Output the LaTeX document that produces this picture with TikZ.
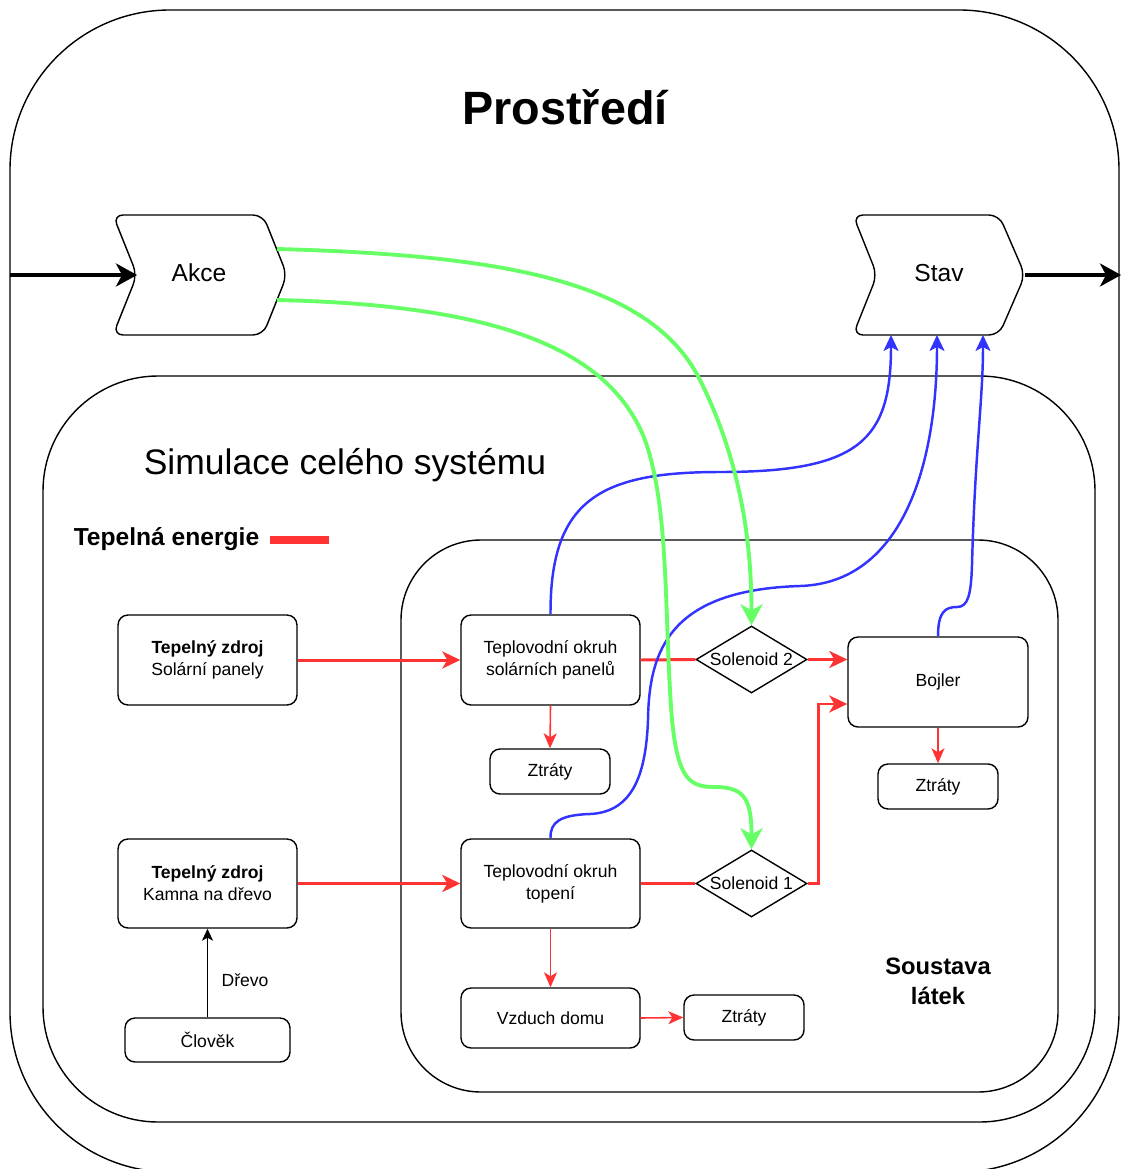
\documentclass[tikz,border=0pt]{standalone}
\usepackage{fontspec}
\setmainfont{Liberation Sans}
\usetikzlibrary{arrows.meta,shapes.geometric}
\definecolor{heat}{HTML}{FF3333}
\definecolor{ctrl}{HTML}{66FF66}
\definecolor{meas}{HTML}{3333FF}
\begin{document}
\begin{tikzpicture}[x=0.02cm,y=-0.02cm,
  frame/.style={draw, line width=0.8pt},
  box/.style={draw, fill=white, rounded corners=0.2cm, line width=0.8pt, align=center, inner sep=0pt, font=\fontsize{10}{12.5}\selectfont},
  dia/.style={draw, fill=white, diamond, line width=0.8pt, inner sep=0pt, minimum width=2.22cm, minimum height=1.34cm, label={[font=\fontsize{10}{12}\selectfont]center:#1}},
  stepshape/.style={draw, fill=white, line width=0.8pt, rounded corners=0.2cm},
  hot/.style={draw=heat, line width=1.7pt},
  hotarrow/.style={hot, -{Stealth[length=0.36cm,width=0.34cm,inset=0.1cm]}},
  thinhot/.style={draw=heat, line width=0.9pt, -{Stealth[length=0.3cm,width=0.26cm,inset=0.08cm]}},
  greenarrow/.style={draw=ctrl, line width=2.2pt, -{Stealth[length=0.42cm,width=0.44cm,inset=0.12cm]}},
  bluearrow/.style={draw=meas, line width=1.4pt, -{Stealth[length=0.32cm,width=0.3cm,inset=0.08cm]}},
  bigarrow/.style={draw=black, line width=2pt, -{Stealth[length=0.42cm,width=0.46cm,inset=0.12cm]}},
  thinarrow/.style={draw=black, line width=0.85pt, -{Stealth[length=0.24cm,width=0.22cm,inset=0.06cm]}}
]
\useasboundingbox (0,0) rectangle (1121,1169);
\clip (0,0) rectangle (1121,1169);
\fill[white] (0,0) rectangle (1121,1169);

% frames
\draw[frame, rounded corners=3.2cm] (10,10) rectangle (1119,1172);
\draw[frame, rounded corners=2.3cm] (43,376) rectangle (1095,1122);
\draw[frame, rounded corners=1.6cm] (401,540) rectangle (1058,1092);

% titles
\node[font=\fontsize{26.6}{30}\selectfont\bfseries] (title) at (565,107) {Prostředí};
\node[font=\fontsize{20.2}{24}\selectfont] (sim) at (345,465) {Simulace celého systému};
\node[font=\fontsize{14}{17}\selectfont\bfseries] (legend) at (166.5,539) {Tepelná energie};
\draw[draw=heat, line width=4pt] (270,540) -- (329,540);
\node[font=\fontsize{13.5}{17}\selectfont\bfseries, align=center] (soustava) at (938,981) {Soustava\\látek};

% Akce / Stav step shapes
\draw[stepshape] (113,215) -- (263,215) -- (287,275) -- (263,335) -- (113,335) -- (137,275) -- cycle;
\node[font=\fontsize{14}{17}\selectfont] (akce) at (199,273) {Akce};
\draw[stepshape] (853,215) -- (999,215) -- (1025,275) -- (999,335) -- (853,335) -- (877,275) -- cycle;
\node[font=\fontsize{14}{17}\selectfont] (stav) at (939,273) {Stav};
\coordinate (akceIn) at (137,275);
\coordinate (leftEdge) at (10,275);
\coordinate (stavOut) at (1025,275);
\coordinate (rightEdge) at (1121,275);
\coordinate (akceG1) at (277,249);
\coordinate (akceG2) at (277,300);
\coordinate (stavA) at (891,335);
\coordinate (stavB) at (937,335);
\coordinate (stavC) at (983,335);

% nodes
\node[box, minimum width=3.58cm, minimum height=1.8cm] (tz1) at (207.5,660) {\textbf{Tepelný zdroj}\\Solární panely};
\node[box, minimum width=3.58cm, minimum height=1.78cm] (tz2) at (207.5,883.5) {\textbf{Tepelný zdroj}\\Kamna na dřevo};
\node[box, minimum width=3.3cm, minimum height=0.88cm] (clovek) at (207.5,1040) {Člověk};
\node[box, minimum width=3.58cm, minimum height=1.8cm] (to1) at (550.5,660) {Teplovodní okruh\\solárních panelů};
\node[box, minimum width=2.4cm, minimum height=0.9cm] (z1) at (550,771.5) {Ztráty};
\node[box, minimum width=3.58cm, minimum height=1.78cm] (to2) at (550.5,883.5) {Teplovodní okruh\\topení};
\node[box, minimum width=3.58cm, minimum height=1.2cm] (vzduch) at (550.5,1018) {Vzduch domu};
\node[box, minimum width=2.4cm, minimum height=0.9cm] (z3) at (744,1017.5) {Ztráty};
\node[box, minimum width=3.6cm, minimum height=1.8cm] (bojler) at (938,682) {Bojler};
\node[box, minimum width=2.4cm, minimum height=0.9cm] (z2) at (938,786.5) {Ztráty};
\node[dia=Solenoid 2] (s2) at (751.5,659.5) {};
\node[dia=Solenoid 1] (s1) at (751.5,883.5) {};

% black arrows
\draw[bigarrow] (leftEdge) -- (akceIn);
\draw[bigarrow] (stavOut) -- (rightEdge);
\draw[thinarrow] (clovek.north) -- (tz2.south);
\node[font=\fontsize{10}{12}\selectfont] (drevo) at (245,980) {Dřevo};

% red heat flows
\draw[hotarrow] (tz1.east) -- (to1.west);
\draw[hotarrow] (tz2.east) -- (to2.west);
\draw[hot] (to1.east) -- (s2.west);
\draw[hot] (to2.east) -- (s1.west);
\draw[hotarrow] (s2.east) -- (s2.east -| bojler.west);
\draw[hotarrow] (s1.east) -- ++(11,0) |- ([yshift=-0.44cm]bojler.west);
\draw[thinhot] (to1.south) -- (z1.north);
\draw[thinhot] (bojler.south) -- (z2.north);
\draw[thinhot] (to2.south) -- (vzduch.north);
\draw[thinhot] (vzduch.east) -- (z3.west);

% blue measurements
\draw[bluearrow] (to1.north) .. controls (550,500) and (600,472) .. (720,472)
  .. controls (860,472) and (891,440) .. (stavA);
\draw[bluearrow] (to2.north) .. controls (550,822) and (560,815) .. (590,814)
  .. controls (635,812) and (646,770) .. (648,720)
  .. controls (649,650) and (670,590) .. (800,586)
  .. controls (900,583) and (937,470) .. (stavB);
\draw[bluearrow] (bojler.north) .. controls (938,612) and (945,607) .. (957,607)
  .. controls (968,607) and (971,595) .. (972,565)
  .. controls (975,450) and (983,400) .. (stavC);

% green actions
\draw[greenarrow] (akceG1) .. controls (500,255) and (650,280) .. (700,380)
  .. controls (740,460) and (751.5,540) .. (s2.north);
\draw[greenarrow] (akceG2) .. controls (500,305) and (610,350) .. (645,440)
  .. controls (670,510) and (664,620) .. (672,720)
  .. controls (678,780) and (690,787) .. (715,787)
  .. controls (745,787) and (751.5,800) .. (s1.north);
\end{tikzpicture}
\end{document}
